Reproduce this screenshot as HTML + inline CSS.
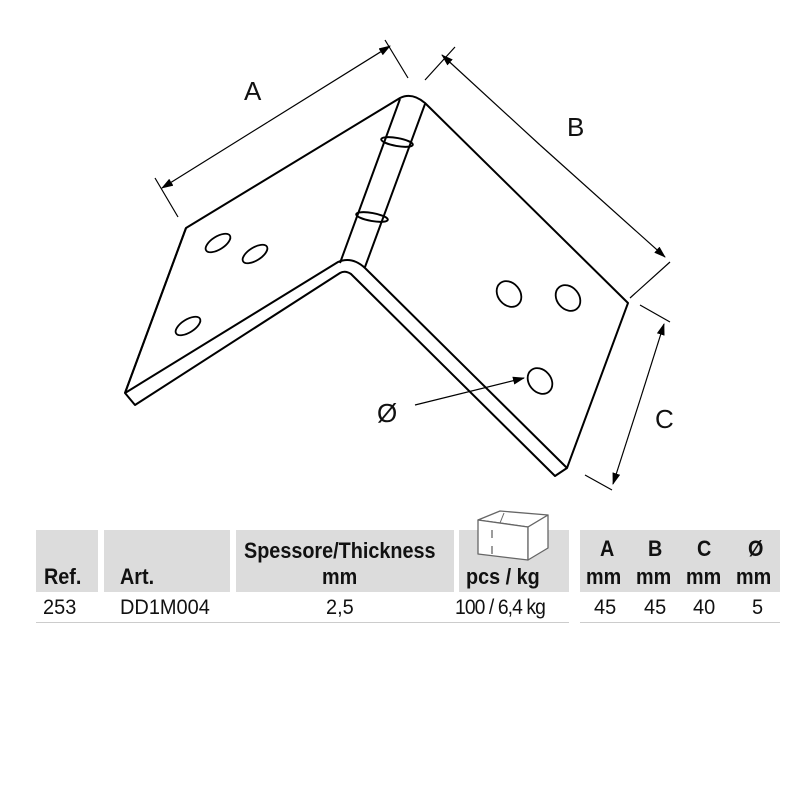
<!DOCTYPE html>
<html><head><style>
body{margin:0;background:#fff;width:800px;height:800px;position:relative;font-family:"Liberation Sans",sans-serif;overflow:hidden}
.c{position:absolute;background:#dcdcdc}
.t{position:absolute;font-size:21px;color:#111;white-space:nowrap}
.b{font-weight:bold;font-size:22px;transform:scaleX(0.9);transform-origin:left}
.n{transform:scaleX(0.95);transform-origin:left}
</style></head><body>
<svg width="800" height="510" style="position:absolute;left:0;top:0" fill="none" stroke="#000" stroke-width="2" stroke-linejoin="round">
<defs><marker id="ar" markerWidth="12" markerHeight="8" refX="11" refY="4" orient="auto" markerUnits="userSpaceOnUse"><path d="M0,0 L12,4 L0,8z" fill="#000" stroke="none"/></marker></defs>
<path d="M186,228 L400,98 Q412,92 425,103 L628,303 L567,468 L555,476 L351,274 Q345,270 340,273 L135,405 L125,393 Z" fill="#fff"/>
<path d="M125,393 L186,228"/>
<path d="M125,393 L338,262 Q352,256 365,268 L567,468"/>
<path d="M400,99 L340,263 M425,104 L365,267"/>
<ellipse cx="397" cy="142" rx="16" ry="4" transform="rotate(10 397 142)"/>
<ellipse cx="372" cy="217" rx="16" ry="4" transform="rotate(10 372 217)"/>
<g stroke-width="1.8">
<ellipse cx="218" cy="243" rx="6.5" ry="14" transform="rotate(58 218 243)"/>
<ellipse cx="255" cy="254" rx="6.5" ry="14" transform="rotate(58 255 254)"/>
<ellipse cx="188" cy="326" rx="6.5" ry="14" transform="rotate(58 188 326)"/>
<ellipse cx="509" cy="294" rx="11" ry="14" transform="rotate(-40 509 294)"/>
<ellipse cx="568" cy="298" rx="11" ry="14" transform="rotate(-40 568 298)"/>
<ellipse cx="540" cy="381" rx="11" ry="14" transform="rotate(-40 540 381)"/>
</g>
<g stroke-width="1.2">
<path d="M155,178 L178,217 M385,40 L408,78"/>
<path d="M268,122 L162,188" marker-end="url(#ar)"/><path d="M268,122 L390,46" marker-end="url(#ar)"/>
<path d="M425,80 L455,47 M630,298 L670,262"/>
<path d="M540,145 L442,55" marker-end="url(#ar)"/><path d="M540,145 L665,257" marker-end="url(#ar)"/>
<path d="M640,305 L670,322 M585,475 L612,490"/>
<path d="M640,400 L664,324" marker-end="url(#ar)"/><path d="M640,400 L613,484" marker-end="url(#ar)"/>
<path d="M415,405 L524,378" marker-end="url(#ar)"/>
</g>
</svg>
<div class="t" style="left:244px;top:76px;font-size:26px">A</div>
<div class="t" style="left:567px;top:112px;font-size:26px">B</div>
<div class="t" style="left:655px;top:404px;font-size:26px">C</div>
<div class="t" style="left:377px;top:398px;font-size:26px">Ø</div>
<div class="c" style="left:36px;top:530px;width:62px;height:62px"></div>
<div class="c" style="left:104px;top:530px;width:126px;height:62px"></div>
<div class="c" style="left:236px;top:530px;width:218px;height:62px"></div>
<div class="c" style="left:459px;top:530px;width:110px;height:62px"></div>
<div class="c" style="left:580px;top:530px;width:200px;height:62px"></div>
<svg width="80" height="60" style="position:absolute;left:470px;top:506px" fill="#fff" stroke="#666" stroke-width="1.3" stroke-linejoin="round">
<path d="M8,14 L30,5 L78,9 L58,21 Z"/><path d="M8,14 L58,21 L58,54 L8,48 Z"/><path d="M58,21 L78,9 L78,42 L58,54 Z"/>
<path d="M34,7 L30,17" stroke-width="1"/><path d="M22,24 L22,32 M22,40 L22,48"/>
</svg>
<div class="t b" style="left:44px;top:564px">Ref.</div>
<div class="t b" style="left:120px;top:564px">Art.</div>
<div class="t b" style="left:244px;top:538px">Spessore/Thickness</div>
<div class="t b" style="left:322px;top:564px">mm</div>
<div class="t b" style="left:466px;top:564px">pcs / kg</div>
<div class="t b" style="left:600px;top:536px">A</div>
<div class="t b" style="left:648px;top:536px">B</div>
<div class="t b" style="left:697px;top:536px">C</div>
<div class="t b" style="left:748px;top:536px">Ø</div>
<div class="t b" style="left:586px;top:564px">mm</div>
<div class="t b" style="left:636px;top:564px">mm</div>
<div class="t b" style="left:686px;top:564px">mm</div>
<div class="t b" style="left:736px;top:564px">mm</div>
<div class="t n" style="left:43px;top:596px">253</div>
<div class="t n" style="left:120px;top:596px">DD1M004</div>
<div class="t n" style="left:326px;top:596px">2,5</div>
<div class="t" style="left:455px;top:596px;letter-spacing:-1px;transform:scaleX(0.92);transform-origin:left">100 / 6,4 kg</div>
<div class="t n" style="left:594px;top:596px">45</div>
<div class="t n" style="left:644px;top:596px">45</div>
<div class="t n" style="left:693px;top:596px">40</div>
<div class="t n" style="left:752px;top:596px">5</div>
<div style="position:absolute;left:36px;top:622px;width:533px;height:1px;background:#ccc"></div>
<div style="position:absolute;left:580px;top:622px;width:200px;height:1px;background:#ccc"></div>
</body></html>
